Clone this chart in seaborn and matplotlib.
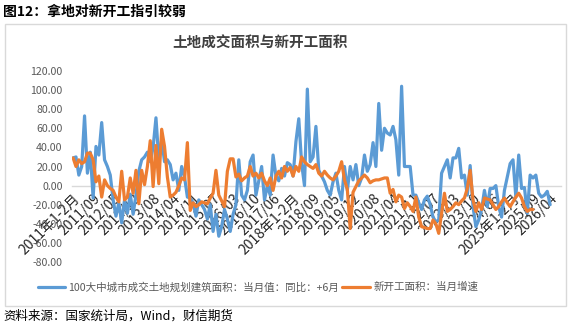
import numpy as np
import pandas as pd
import matplotlib
matplotlib.use("Agg")
import matplotlib.pyplot as plt
import seaborn as sns
from matplotlib.patches import Rectangle

sns.set_style("white")
plt.rcParams['font.family'] = ['Noto Sans CJK SC', 'DejaVu Sans']

# ---- data ----
land_yoy = [29, 30, 11, 20, 73, 13, 35, -13, 41, 32,
            66, 27, 20, 11, -15, -32, -18, -39, -15, -29,
            -9, -30, -10, 15, 27, 30, 35, 25, 40, 71,
            27, 48, 25, 27, 22, 6, 13, -5, 20, 9,
            -12, -13, -18, -32, -15, -20, -25, -35, -20, -48,
            -30, -53, -43, -25, -35, -48, -30, -20, 27, -10,
            -15, -5, 25, 32, -10, 5, 20, -15, 0, -10,
            32, 10, 5, 18, 10, 24, 22, 10, 46, 70,
            23, 0, 101, 25, 30, 62, 16, 10, 4, -5,
            -10, 4, 13, -5, -15, 20, -5, 20, 6, 22,
            0, 8, 32, 15, 22, 45, 20, 86, 37, 60,
            55, 53, 62, 48, 11, 104, 20, 20, 20, -10,
            -10, -18, -25, -15, -11, -20, -33, -38, -36, 13,
            20, 27, 8, 29, 29, 39, 8, 11, -10, 21,
            -22, -43, -36, -25, -5, -22, -3, -3, 0, -22,
            -33, -5, 9, 23, 27, -12, 32, -3, -2, -29,
            11, 8, 11, -8, -12, -10, -6, -20]
new_start = [29, 20, 27, 23, 25, 34, 34, 27, 4, 10,
             -12, 6, 0, -3, -5, -12, -17, 15, -15, -12,
             8, -8, 16, -19, 16, 1, 20, 47, -1, 42,
             2, 59, 41, 9, -12, -10, -7, 0, 8, 6,
             45, -26, -18, -22, -20, -17, -18, -19, -13, -8,
             16, -10, -16, -22, 15, 28, 28, 9, 12, 5,
             8, 10, 20, 10, 13, 8, 13, 5, 0, 8,
             -5, 10, 15, 8, 20, 15, 19, 10, 20, 15,
             30, 25, 22, 20, 18, 22, 13, 10, 15, 11,
             8, 6, 10, 15, 25, 6, -4, -45, -7, -1,
             5, 8, 11, 8, 3, 5, 6, 6, 7, 8,
             8, -8, -4, -17, -10, -12, -24, -18, -22, -27,
             -12, -33, -43, -44, -45, -45, -36, -40, -50, -29,
             -8, -27, -25, -22, -18, -20, -16, -13, -3, 16,
             -15, -27, -18, -25, -13, -14, -15, -20, -25, -22,
             -17, -13, -18, -22, -17, -12, -8, -13, -22, -27,
             -25, -25]
series_names = ["100大中城市成交土地规划建筑面积：当月值：同比：+6月", "新开工面积：当月增速"]

# categories: 2011年1-2月 ... 2026/04 (January merged into 1-2月)
categories = []
for yr in range(2011, 2027):
    for m in ["1-2"] + [f"{k:02d}" for k in range(3, 13)]:
        categories.append(f"{yr}年1-2月" if m == "1-2" else f"{yr}/{m}")
categories = categories[:168]

tick_idx = list(range(0, 162, 7)) + [167]
yticks = [-80, -60, -40, -20, 0, 20, 40, 60, 80, 100, 120]

W, H = 577, 324
fig = plt.figure(figsize=(W / 100, H / 100), dpi=100)
ax = fig.add_axes([71.7 / W, (H - 262) / H, 489 / W, 191 / H])

df1 = pd.DataFrame({"i": np.arange(len(land_yoy)), "v": land_yoy})
df2 = pd.DataFrame({"i": np.arange(len(new_start)), "v": new_start})
blue, orange = "#5B9BD5", "#ED7D31"
sns.lineplot(data=df1, x="i", y="v", ax=ax, color=blue, lw=2.3, label=series_names[0])
sns.lineplot(data=df2, x="i", y="v", ax=ax, color=orange, lw=2.3, label=series_names[1])

ax.set_xlim(-0.5, 170.7)
ax.set_ylim(-80, 120)
ax.set_yticks(yticks)
ax.set_yticklabels([f"{v:.2f}" for v in yticks], fontsize=7.6, color="#595959")
ax.set_xticks(tick_idx)
ax.set_xticklabels([categories[i] for i in tick_idx], fontsize=7.4, color="#595959")
ax.tick_params(axis="both", length=0)
ax.tick_params(axis="y", pad=6.5)
ax.tick_params(axis="x", pad=4)
for s in ["top", "right", "left"]:
    ax.spines[s].set_visible(False)
ax.spines["bottom"].set_position(("data", 0))
ax.spines["bottom"].set_color("#d9d9d9")
ax.spines["bottom"].set_linewidth(1.0)
ax.spines["bottom"].set_zorder(0)
ax.set_xlabel("")
ax.set_ylabel("")
ax.patch.set_alpha(0)
for lab in ax.get_xticklabels():
    lab.set_rotation(45)
    lab.set_ha("right")
    lab.set_va("top")
    lab.set_rotation_mode("anchor")

leg = ax.legend(loc="center", bbox_to_anchor=(258 / W, (H - 287) / H), bbox_transform=fig.transFigure,
                ncol=2, frameon=False, fontsize=7.6, handlelength=2.6, handletextpad=0.3,
                columnspacing=0.3, labelcolor="#595959")

fig.add_artist(Rectangle((5 / W, (H - 305.5) / H), 561 / W, 282 / H, transform=fig.transFigure,
                         fill=False, edgecolor="#d9d9d9", lw=1.0))
fig.text(3 / W, 1 - 12 / H, "图12：拿地对新开工指引较弱", fontsize=10, fontweight="bold",
         ha="left", va="center", color="#000000")
fig.text(260 / W, 1 - 43 / H, "土地成交面积与新开工面积", fontsize=10.5, fontweight="bold",
         ha="center", va="center", color="#404040")
fig.text(3 / W, 1 - 316 / H, "资料来源：国家统计局，Wind，财信期货", fontsize=9, style="italic",
         ha="left", va="center", color="#000000")

fig.savefig("out.png", dpi=100)
